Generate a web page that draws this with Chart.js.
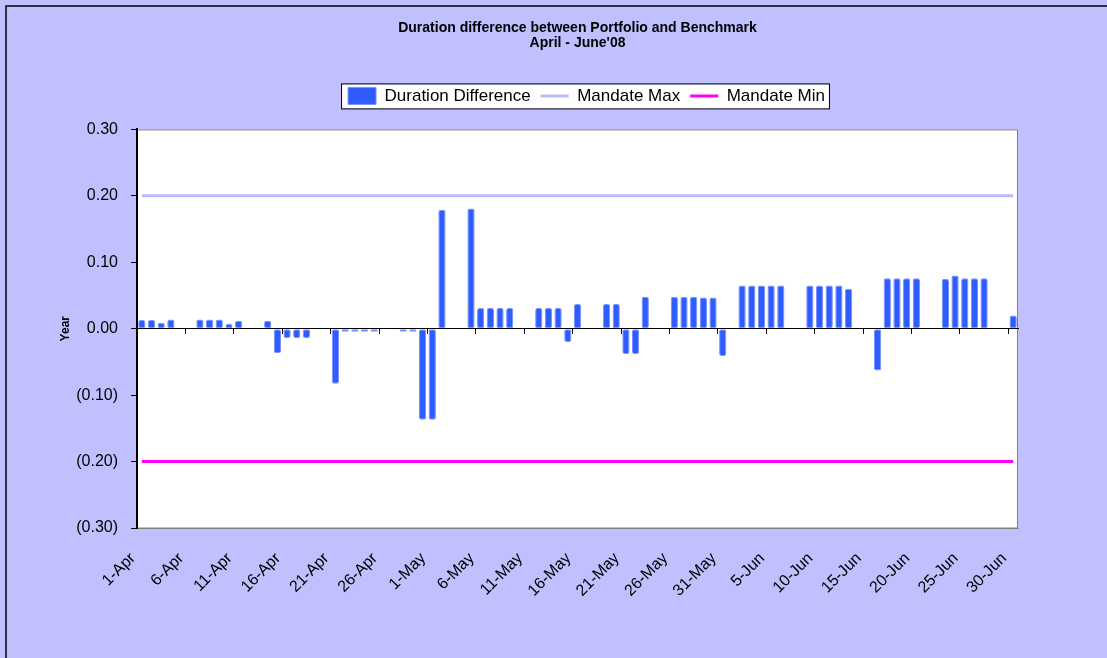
<!DOCTYPE html>
<html>
<head>
<meta charset="utf-8">
<script src="https://cdn.jsdelivr.net/npm/chart.js@4/dist/chart.umd.min.js"></script>
<style>
  html, body { margin: 0; padding: 0; background: #C0C0FF; }
  #wrap { width: 1107px; height: 658px; }
</style>
</head>
<body>
<div id="wrap"><canvas id="durationChart" width="1107" height="658"></canvas></div>
<script>
// daily dates, 1-Apr .. 30-Jun 2008
const dates = [
  '1-Apr','2-Apr','3-Apr','4-Apr','5-Apr','6-Apr','7-Apr','8-Apr','9-Apr','10-Apr',
  '11-Apr','12-Apr','13-Apr','14-Apr','15-Apr','16-Apr','17-Apr','18-Apr','19-Apr','20-Apr',
  '21-Apr','22-Apr','23-Apr','24-Apr','25-Apr','26-Apr','27-Apr','28-Apr','29-Apr','30-Apr',
  '1-May','2-May','3-May','4-May','5-May','6-May','7-May','8-May','9-May','10-May',
  '11-May','12-May','13-May','14-May','15-May','16-May','17-May','18-May','19-May','20-May',
  '21-May','22-May','23-May','24-May','25-May','26-May','27-May','28-May','29-May','30-May',
  '31-May',
  '1-Jun','2-Jun','3-Jun','4-Jun','5-Jun','6-Jun','7-Jun','8-Jun','9-Jun','10-Jun',
  '11-Jun','12-Jun','13-Jun','14-Jun','15-Jun','16-Jun','17-Jun','18-Jun','19-Jun','20-Jun',
  '21-Jun','22-Jun','23-Jun','24-Jun','25-Jun','26-Jun','27-Jun','28-Jun','29-Jun','30-Jun'
];

// duration difference (years), null = no value that day
const durationDiff = [
  0.013, 0.013, 0.009, 0.014, null, null, 0.014, 0.014, 0.014, 0.007,
  0.012, null, null, 0.012, -0.037, -0.014, -0.014, -0.014, null, null,
  -0.083, -0.002, -0.002, -0.002, -0.002, null, null, -0.002, -0.002, -0.137,
  -0.137, 0.179, null, null, 0.181, 0.031, 0.031, 0.031, 0.031, null,
  null, 0.031, 0.031, 0.031, -0.020, 0.037, null, null, 0.037, 0.037,
  -0.038, -0.038, 0.048, null, null, 0.048, 0.048, 0.048, 0.047, 0.047,
  -0.041,
  null, 0.065, 0.065, 0.065, 0.065, 0.065, null, null, 0.065, 0.065,
  0.065, 0.065, 0.060, null, null, -0.063, 0.076, 0.076, 0.076, 0.076,
  null, null, 0.075, 0.080, 0.076, 0.076, 0.076, null, null, 0.020
];

const mandateMax = 0.20;
const mandateMin = -0.20;

const fontFamily = '"Liberation Sans", Arial, sans-serif';

// backgrounds: page, plot area, legend frame
const framePlugin = {
  id: 'frames',
  afterLayout(chart) {
    // legend sits a little right of the plot centre
    if (chart.legend) {
      chart.legend.left += 9;
      chart.legend.right += 9;
    }
  },
  beforeDraw(chart) {
    const ctx = chart.ctx;
    const a = chart.chartArea;
    ctx.save();
    ctx.fillStyle = '#C0C0FF';
    ctx.fillRect(0, 0, chart.width, chart.height);
    ctx.strokeStyle = '#000';
    ctx.lineWidth = 1.5;
    ctx.beginPath();
    ctx.moveTo(6, chart.height);
    ctx.lineTo(6, 6);
    ctx.lineTo(chart.width, 6);
    ctx.stroke();

    ctx.fillStyle = '#fff';
    ctx.fillRect(a.left, a.top, a.right - a.left, a.bottom - a.top);
    ctx.strokeStyle = '#808080';
    ctx.lineWidth = 1;
    ctx.strokeRect(a.left, a.top + 0.5, a.right - a.left - 0.5, a.bottom - a.top - 0.5);

    const boxes = chart.legend && chart.legend.legendHitBoxes;
    if (boxes && boxes.length) {
      let l = Infinity, t = Infinity, r = -Infinity, b = -Infinity;
      boxes.forEach(h => {
        l = Math.min(l, h.left); t = Math.min(t, h.top);
        r = Math.max(r, h.left + h.width); b = Math.max(b, h.top + h.height);
      });
      ctx.fillStyle = '#fff';
      ctx.fillRect(l - 6, t - 3, r - l + 10, b - t + 7);
      ctx.strokeStyle = '#000';
      ctx.strokeRect(l - 6.5, t - 3.5, r - l + 11, b - t + 8);
    }
    ctx.restore();
  }
};

new Chart(document.getElementById('durationChart'), {
  type: 'bar',
  data: {
    labels: dates,
    datasets: [
      {
        label: 'Duration Difference',
        data: durationDiff,
        backgroundColor: '#2F5CFF',
        borderColor: '#7892FF',
        borderWidth: 1,
        borderRadius: 2,
        borderSkipped: false,
        barPercentage: 0.75,
        categoryPercentage: 1,
        minBarLength: 3,
        pointStyle: 'rect',
        order: 1
      },
      {
        type: 'line',
        label: 'Mandate Max',
        data: dates.map(() => mandateMax),
        borderColor: '#BCBCF8',
        backgroundColor: '#BCBCF8',
        borderWidth: 3,
        pointRadius: 0,
        pointStyle: 'line',
        order: 2
      },
      {
        type: 'line',
        label: 'Mandate Min',
        data: dates.map(() => mandateMin),
        borderColor: '#FF00FF',
        backgroundColor: '#FF00FF',
        borderWidth: 3,
        pointRadius: 0,
        pointStyle: 'line',
        order: 3
      }
    ]
  },
  options: {
    responsive: false,
    animation: false,
    layout: { padding: { left: 48, right: 89, top: 0, bottom: 0 } },
    plugins: {
      title: {
        display: true,
        fullSize: false,
        text: ['Duration difference between Portfolio and Benchmark', "April - June'08"],
        color: '#000',
        font: { family: fontFamily, size: 14, weight: 'bold', lineHeight: 1.05 },
        padding: { top: 21, bottom: 27 }
      },
      // empty spacer between the legend and the plot area
      subtitle: {
        display: true,
        fullSize: false,
        weight: 500,
        text: ' ',
        font: { size: 10, lineHeight: 1.5 },
        padding: 0
      },
      legend: {
        fullSize: false,
        labels: {
          usePointStyle: true,
          pointStyleWidth: 28,
          color: '#000',
          font: { family: fontFamily, size: 17 },
          padding: 10
        }
      },
      tooltip: { enabled: false }
    },
    scales: {
      x: {
        grid: { display: false, drawTicks: false },
        border: { color: '#808080', width: 1 },
        ticks: {
          autoSkip: false,
          maxRotation: 45,
          minRotation: 45,
          padding: 21,
          labelOffset: -9,
          color: '#000',
          font: { family: fontFamily, size: 16 },
          callback: (v, i) => (i % 5 === 0 ? dates[i] : '')
        },
        afterFit: s => { s.height = 130; }
      },
      x0: {
        axis: 'x',
        type: 'category',
        position: { y: 0 },
        ticks: { display: false },
        grid: {
          drawOnChartArea: false,
          offset: true,
          tickLength: 5,
          color: c => (c.index % 5 === 0 ? '#000' : 'rgba(0,0,0,0)')
        },
        border: { color: '#000', width: 1 }
      },
      y: {
        min: -0.3,
        max: 0.3,
        ticks: {
          stepSize: 0.1,
          color: '#000',
          padding: 13,
          font: { family: fontFamily, size: 16 },
          callback: v => (v < -1e-9 ? '(' + Math.abs(v).toFixed(2) + ')' : Math.abs(v).toFixed(2))
        },
        grid: { drawOnChartArea: false, tickLength: 6, color: '#000' },
        border: { color: '#000', width: 2 },
        title: {
          display: true,
          text: 'Year',
          color: '#000',
          font: { family: fontFamily, size: 12, weight: 'bold' },
          padding: { top: 10, bottom: 0 }
        },
        afterFit: s => { s.width = 89; }
      }
    }
  },
  plugins: [framePlugin]
});
</script>
</body>
</html>
